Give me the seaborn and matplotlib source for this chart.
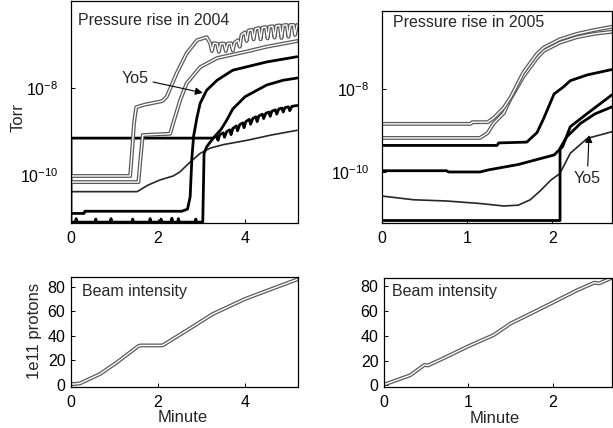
import numpy as np
import pandas as pd
import matplotlib
matplotlib.use("Agg")
import matplotlib.pyplot as plt
import matplotlib.patheffects as pe
from matplotlib.ticker import NullLocator
import seaborn as sns

# ---------------- data (log10 of pressure in Torr, time in minutes) ----------------
# 2004 panel
a04_t = [0, 1.36, 1.40, 1.45, 1.50, 1.70, 2.10, 2.20, 2.43, 2.66, 2.90, 3.12,
         3.20, 3.24, 3.28, 3.36, 3.40, 3.44, 3.52, 3.56, 3.60, 3.68, 3.72, 3.76,
         3.84, 3.88, 3.92, 4.00, 4.04, 4.08, 4.16, 4.20, 4.24, 4.32, 4.36, 4.40,
         4.48, 4.52, 4.56, 4.64, 4.68, 4.72, 4.80, 4.84, 4.88, 4.96, 5.00, 5.04,
         5.12, 5.15, 5.20]
a04_v = [-10.02, -10.02, -9.5, -8.8, -8.44, -8.38, -8.30, -8.20, -7.66, -7.20, -6.90, -6.83,
         -6.97, -7.15, -6.97, -6.98, -7.17, -6.98, -6.98, -7.15, -6.98, -6.97, -7.14, -6.96,
         -6.90, -7.05, -6.78, -6.72, -6.92, -6.68, -6.66, -6.88, -6.64, -6.62, -6.88, -6.61,
         -6.60, -6.86, -6.59, -6.58, -6.84, -6.57, -6.56, -6.85, -6.56, -6.55, -6.82, -6.55,
         -6.55, -6.78, -6.55]
b04_t = [0, 1.55, 1.60, 1.65, 2.28, 2.37, 2.51, 2.66, 2.97, 3.36, 4.00, 4.50, 5.20]
b04_v = [-10.16, -10.16, -9.6, -9.08, -9.05, -8.74, -8.28, -7.89, -7.52, -7.31, -7.17, -7.05, -6.92]
c04_t = [0, 0.30, 0.32, 2.55, 2.68, 2.74, 2.78, 2.82, 2.90, 2.97, 3.12, 3.36, 3.72, 4.50, 5.20]
c04_v = [-10.88, -10.88, -10.83, -10.83, -10.78, -10.5, -9.6, -9.1, -8.66, -8.35, -8.05, -7.82,
         -7.59, -7.40, -7.28]
d04_t = [0, 0.10, 0.12, 0.14, 0.55, 0.57, 0.59, 0.90, 0.92, 0.94, 1.40, 1.42, 1.44,
         1.80, 1.82, 1.84, 2.05, 2.07, 2.09, 2.30, 2.32, 2.34, 2.45, 2.47, 2.49,
         2.85, 2.87, 2.89, 3.03, 3.06, 3.12, 3.27, 3.45, 3.58, 3.72, 4.00, 4.50, 4.88, 5.20]
d04_v = [-11.08, -11.08, -11.00, -11.08, -11.08, -11.01, -11.08, -11.08, -11.00, -11.08,
         -11.08, -11.01, -11.08, -11.08, -11.00, -11.08, -11.08, -11.01, -11.08, -11.08,
         -10.99, -11.08, -11.08, -11.00, -11.08, -11.08, -11.01, -11.08, -11.08, -9.5, -9.35,
         -9.15, -8.95, -8.74, -8.48, -8.20, -7.93, -7.82, -7.77]
e04_t = [0, 1.52, 1.77, 2.05, 2.35, 2.50, 2.74, 2.97, 3.20, 3.50, 4.05, 4.60, 5.20]
e04_v = [-10.38, -10.38, -10.23, -10.11, -10.02, -9.93, -9.70, -9.50, -9.38, -9.30, -9.20, -9.08, -8.97]
f04_t = [0, 0, 3.27, 3.35, 3.38, 3.42, 3.50, 3.53, 3.58, 3.65, 3.68, 3.72, 3.80, 3.83, 3.88,
         3.95, 3.98, 4.02, 4.10, 4.13, 4.18, 4.25, 4.28, 4.32, 4.40, 4.43, 4.48, 4.55, 4.58,
         4.62, 4.70, 4.73, 4.78, 4.85, 4.88, 4.92, 5.00, 5.03, 5.08, 5.20]
f04_v = [-11.1, -9.15, -9.15, -9.10, -9.20, -9.07, -9.03, -9.13, -9.00, -8.96, -9.07, -8.93,
         -8.87, -8.98, -8.84, -8.80, -8.91, -8.77, -8.72, -8.83, -8.70, -8.66, -8.77, -8.64,
         -8.60, -8.70, -8.58, -8.55, -8.65, -8.53, -8.50, -8.60, -8.48, -8.46, -8.55, -8.45,
         -8.43, -8.52, -8.42, -8.40]

# 2005 panel
g05_t = [0, 1.04, 1.06, 1.24, 1.31, 1.43, 1.51, 1.66, 1.82, 1.90, 2.09, 2.29, 2.49, 2.70]
g05_v = [-8.84, -8.84, -8.80, -8.80, -8.70, -8.45, -8.20, -7.60, -7.15, -7.00, -6.80, -6.67, -6.58, -6.50]
h05_t = [0, 1.15, 1.24, 1.31, 1.43, 1.50, 1.66, 1.82, 1.90, 2.09, 2.29, 2.49, 2.70]
h05_v = [-9.18, -9.18, -9.06, -8.83, -8.58, -8.27, -7.70, -7.25, -7.08, -6.88, -6.75, -6.67, -6.62]
i05_t = [0, 1.35, 1.37, 1.70, 1.82, 1.90, 2.02, 2.13, 2.21, 2.41, 2.70]
i05_v = [-9.36, -9.36, -9.30, -9.28, -9.05, -8.70, -8.12, -7.95, -7.80, -7.66, -7.53]
j05_t = [0, 0.76, 0.78, 1.15, 1.25, 1.60, 2.02, 2.12, 2.21, 2.41, 2.70]
j05_v = [-9.97, -9.97, -10.00, -10.00, -9.95, -9.82, -9.59, -9.39, -8.91, -8.59, -8.14]
k05_t = [0, 2.09, 2.09, 2.17, 2.33, 2.50, 2.70]
k05_v = [-11.17, -11.17, -9.43, -9.15, -8.83, -8.60, -8.43]
l05_t = [0, 0.37, 0.76, 1.15, 1.43, 1.60, 1.74, 1.86, 1.98, 2.08, 2.11, 2.21, 2.41, 2.70]
l05_v = [-10.58, -10.67, -10.70, -10.76, -10.82, -10.80, -10.67, -10.45, -10.20, -10.05, -9.95,
         -9.55, -9.19, -9.03]

# beam intensity (1e11 protons)
beam04_t = [0, 0.05, 0.21, 0.67, 1.05, 1.55, 1.60, 2.10, 2.15, 2.65, 3.26, 4.00, 4.50, 5.20]
beam04_v = [1.0, 0.3, 1.0, 8.7, 18.0, 31.5, 32.0, 32.0, 33.0, 44.0, 57.7, 70.0, 76.7, 86.0]
beam05_t = [0, 0.31, 0.48, 0.52, 0.70, 0.98, 1.30, 1.50, 1.90, 2.29, 2.49, 2.55, 2.70]
beam05_v = [0.5, 8.1, 16.5, 16.0, 21.7, 31.0, 40.7, 50.0, 63.5, 77.0, 83.0, 82.5, 87.0]

titles = ["Pressure rise in 2004", "Pressure rise in 2005", "Beam intensity", "Beam intensity"]
xticks04 = [0, 2, 4]
xticks05 = [0, 1, 2]
beam_yticks = [0, 20, 40, 60, 80]
log_ticks = [-10, -8]

# ---------------- style ----------------
sns.set_theme(style="ticks")
plt.rcParams["font.family"] = ["Liberation Sans", "DejaVu Sans"]
plt.rcParams["mathtext.fontset"] = "custom"
plt.rcParams["mathtext.rm"] = "Liberation Sans"
plt.rcParams["axes.linewidth"] = 0.9
plt.rcParams["axes.edgecolor"] = "black"

FS = 11.5
LFS = 12
fig = plt.figure(figsize=(6.13, 4.28), dpi=100)
W, H = 613.0, 428.0


def box(x0, y0, x1, y1):
    return [x0 / W, 1 - y1 / H, (x1 - x0) / W, (y1 - y0) / H]


ax_tl = fig.add_axes(box(71, 1, 298, 223))
ax_tr = fig.add_axes(box(382, 11, 612, 223))
ax_bl = fig.add_axes(box(71, 277, 298, 387))
ax_br = fig.add_axes(box(384, 278, 612, 387))

hollow = [pe.Stroke(linewidth=2.8, foreground="0.35"), pe.Normal()]


def draw(ax, t, v, kind, log=True):
    y = np.power(10.0, v) if log else np.asarray(v)
    if kind == "hollow":
        sns.lineplot(x=t, y=y, ax=ax, sort=False, estimator=None, color="white", lw=1.0,
                     path_effects=hollow)
    elif kind == "thin":
        sns.lineplot(x=t, y=y, ax=ax, sort=False, estimator=None, color="0.15", lw=1.2)
    else:
        sns.lineplot(x=t, y=y, ax=ax, sort=False, estimator=None, color="black", lw=2.0)


# 2004 pressure
for t, v, k in [(e04_t, e04_v, "thin"), (f04_t, f04_v, "bold"), (d04_t, d04_v, "bold"),
                (c04_t, c04_v, "bold"), (b04_t, b04_v, "hollow"), (a04_t, a04_v, "hollow")]:
    draw(ax_tl, t, v, k)
# 2005 pressure
for t, v, k in [(l05_t, l05_v, "thin"), (k05_t, k05_v, "bold"), (j05_t, j05_v, "bold"),
                (i05_t, i05_v, "bold"), (h05_t, h05_v, "hollow"), (g05_t, g05_v, "hollow")]:
    draw(ax_tr, t, v, k)
# beam
draw(ax_bl, beam04_t, beam04_v, "hollow", log=False)
draw(ax_br, beam05_t, beam05_v, "hollow", log=False)

for ax, ylim, xmax, xt in [(ax_tl, (-11.1, -6.0), 5.22, xticks04), (ax_tr, (-11.23, -6.12), 2.70, xticks05)]:
    ax.set_yscale("log")
    ax.set_ylim(10 ** ylim[0], 10 ** ylim[1])
    ax.set_xlim(0, xmax)
    ax.set_yticks([10.0 ** p for p in log_ticks])
    ax.set_yticklabels([r"$\mathregular{10^{%d}}$" % p for p in log_ticks])
    ax.yaxis.set_minor_locator(NullLocator())
    ax.set_xticks(xt)
    ax.tick_params(axis="y", pad=9)

ax_bl.set_xlim(0, 5.22)
ax_bl.set_ylim(-2, 88)
ax_bl.set_xticks(xticks04)
ax_br.set_xlim(0, 2.70)
ax_br.set_ylim(-1.4, 86.8)
ax_br.set_xticks(xticks05)
for ax in (ax_bl, ax_br):
    ax.set_yticks(beam_yticks)
    ax.tick_params(axis="y", pad=4)

for ax in (ax_tl, ax_tr, ax_bl, ax_br):
    for s in ax.spines.values():
        s.set_visible(True)
        s.set_color("black")
        s.set_linewidth(0.9)
    ax.set_facecolor("white")
    ax.tick_params(direction="in", length=3, width=0.7, labelsize=FS, colors="black")
    ax.tick_params(axis="x", pad=6)
    ax.set_xlabel("")
    ax.set_ylabel("")

# panel titles
ax_tl.text(0.031, 0.91, titles[0], transform=ax_tl.transAxes, fontsize=FS, va="center", ha="left")
ax_tr.text(0.048, 0.948, titles[1], transform=ax_tr.transAxes, fontsize=FS, va="center", ha="left")
ax_bl.text(0.048, 0.864, titles[2], transform=ax_bl.transAxes, fontsize=FS, va="center", ha="left")
ax_br.text(0.035, 0.874, titles[3], transform=ax_br.transAxes, fontsize=FS, va="center", ha="left")

# axis labels
ax_tl.set_ylabel("Torr", fontsize=LFS, va="center")
ax_tl.yaxis.set_label_coords(-0.233, 0.477)
ax_bl.set_ylabel("1e11 protons", fontsize=LFS, va="center")
ax_bl.yaxis.set_label_coords(-0.159, 0.509)
ax_bl.set_xlabel("Minute", fontsize=LFS, va="center")
ax_bl.xaxis.set_label_coords(0.49, -0.28)
ax_br.set_xlabel("Minute", fontsize=LFS, va="center")
ax_br.xaxis.set_label_coords(0.487, -0.29)

# Yo5 annotations
arrow = dict(arrowstyle="-|>", color="black", lw=0.8, mutation_scale=11, shrinkA=1, shrinkB=0)
ax_tl.annotate("Yo5", xy=(3.03, 10 ** -8.11), xytext=(1.47, 10 ** -7.77), fontsize=FS,
               ha="center", va="center", arrowprops=arrow)
ax_tr.annotate("Yo5", xy=(2.43, 10 ** -9.11), xytext=(2.41, 10 ** -10.15), fontsize=FS,
               ha="center", va="center", arrowprops=arrow)

fig.savefig("out.png", dpi=100, facecolor="white")
